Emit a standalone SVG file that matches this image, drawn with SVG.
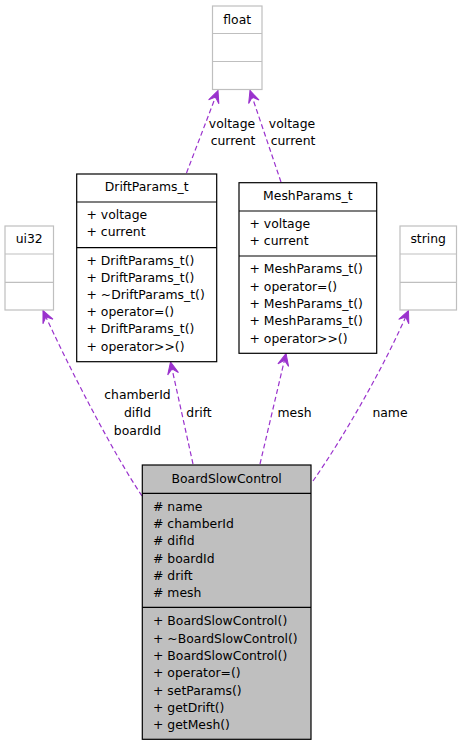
<svg xmlns="http://www.w3.org/2000/svg" width="461" height="747" viewBox="0 0 461 747">
<style>
text{font-family:"DejaVu Sans","Liberation Sans",sans-serif;font-size:12.4px;fill:#000}
.c{text-anchor:middle}
.box{fill:#fff;stroke:#000;stroke-width:1.2}
.gbox{fill:#fff;stroke:#bfbfbf;stroke-width:1.2}
.sel{fill:#bfbfbf;stroke:#000;stroke-width:1.2}
.ln{stroke:#000;stroke-width:1.2}
.gln{stroke:#bfbfbf;stroke-width:1.2}
.edge{fill:none;stroke:#9a32cd;stroke-width:1.2;stroke-dasharray:5,3}
</style>
<defs>
<marker id="vee" markerUnits="userSpaceOnUse" viewBox="-14 -7 16 14" refX="0" refY="0" markerWidth="16" markerHeight="14" orient="auto">
<path d="M0,0 L-12,-5.5 L-7,0 L-12,5.5 Z" fill="#9a32cd" stroke="#9a32cd" stroke-width="1"/>
</marker>
</defs>
<g id="connectors">
<path class="edge" d="M186.5,173 L218,90.5" marker-end="url(#vee)"/>
<path class="edge" d="M281,182 L250,90.5" marker-end="url(#vee)"/>
<path class="edge" d="M142,496 C115,456 70,370 43,310.5" marker-end="url(#vee)"/>
<path class="edge" d="M193,464 L170.5,362" marker-end="url(#vee)"/>
<path class="edge" d="M260,464 L286,353.5" marker-end="url(#vee)"/>
<path class="edge" d="M313,481 C345,435 385,365 408.5,310.5" marker-end="url(#vee)"/>
</g>
<g id="edge-labels">
<text class="c" x="232" y="128">voltage</text>
<text class="c" x="233" y="144.5">current</text>
<text class="c" x="292" y="128">voltage</text>
<text class="c" x="293" y="144.5">current</text>
<text class="c" x="137.5" y="399">chamberId</text>
<text class="c" x="137.5" y="417">difId</text>
<text class="c" x="137.5" y="434.5">boardId</text>
<text class="c" x="199" y="417">drift</text>
<text class="c" x="294.5" y="417">mesh</text>
<text class="c" x="390" y="417">name</text>
</g>
<g id="float">
<rect class="gbox" x="212.5" y="6" width="49.5" height="83.5"/>
<line class="gln" x1="212.5" y1="33.5" x2="262" y2="33.5"/>
<line class="gln" x1="212.5" y1="61.5" x2="262" y2="61.5"/>
<text class="c" x="237.2" y="23.5">float</text>
</g>
<g id="ui32">
<rect class="gbox" x="5" y="226" width="48.5" height="84"/>
<line class="gln" x1="5" y1="254" x2="53.5" y2="254"/>
<line class="gln" x1="5" y1="282.3" x2="53.5" y2="282.3"/>
<text class="c" x="29.2" y="243.3">ui32</text>
</g>
<g id="string">
<rect class="gbox" x="400" y="226" width="56.5" height="84"/>
<line class="gln" x1="400" y1="254" x2="456.5" y2="254"/>
<line class="gln" x1="400" y1="282.3" x2="456.5" y2="282.3"/>
<text class="c" x="428.2" y="243.3">string</text>
</g>
<g id="DriftParams_t">
<rect class="box" x="76.7" y="174" width="140" height="187.7"/>
<line class="ln" x1="76.7" y1="202" x2="216.7" y2="202"/>
<line class="ln" x1="76.7" y1="247.7" x2="216.7" y2="247.7"/>
<text class="c" x="146.7" y="191">DriftParams_t</text>
<text x="86.5" y="218.5">+ voltage</text>
<text x="86.5" y="236">+ current</text>
<text x="86.5" y="265">+ DriftParams_t()</text>
<text x="86.5" y="282.1">+ DriftParams_t()</text>
<text x="86.5" y="299.2">+ ~DriftParams_t()</text>
<text x="86.5" y="316.3">+ operator=()</text>
<text x="86.5" y="333.4">+ DriftParams_t()</text>
<text x="86.5" y="350.5">+ operator&gt;&gt;()</text>
</g>
<g id="MeshParams_t">
<rect class="box" x="239" y="182.7" width="137.7" height="170.6"/>
<line class="ln" x1="239" y1="211" x2="376.7" y2="211"/>
<line class="ln" x1="239" y1="256" x2="376.7" y2="256"/>
<text class="c" x="307.8" y="200.3">MeshParams_t</text>
<text x="249.5" y="228.3">+ voltage</text>
<text x="249.5" y="245">+ current</text>
<text x="249.5" y="273.3">+ MeshParams_t()</text>
<text x="249.5" y="291">+ operator=()</text>
<text x="249.5" y="308.3">+ MeshParams_t()</text>
<text x="249.5" y="325.3">+ MeshParams_t()</text>
<text x="249.5" y="342.6">+ operator&gt;&gt;()</text>
</g>
<g id="BoardSlowControl">
<rect class="sel" x="142.3" y="465" width="168.7" height="274.3"/>
<line class="ln" x1="142.3" y1="493.3" x2="311" y2="493.3"/>
<line class="ln" x1="142.3" y1="607.3" x2="311" y2="607.3"/>
<text class="c" x="226.6" y="483.3">BoardSlowControl</text>
<text x="153" y="511">#  name</text>
<text x="153" y="527.8">#  chamberId</text>
<text x="153" y="545.3">#  difId</text>
<text x="153" y="563">#  boardId</text>
<text x="153" y="580">#  drift</text>
<text x="153" y="597">#  mesh</text>
<text x="153" y="625.3">+ BoardSlowControl()</text>
<text x="153" y="643">+ ~BoardSlowControl()</text>
<text x="153" y="660">+ BoardSlowControl()</text>
<text x="153" y="677">+ operator=()</text>
<text x="153" y="695">+ setParams()</text>
<text x="153" y="712.3">+ getDrift()</text>
<text x="153" y="729.3">+ getMesh()</text>
</g>
</svg>
